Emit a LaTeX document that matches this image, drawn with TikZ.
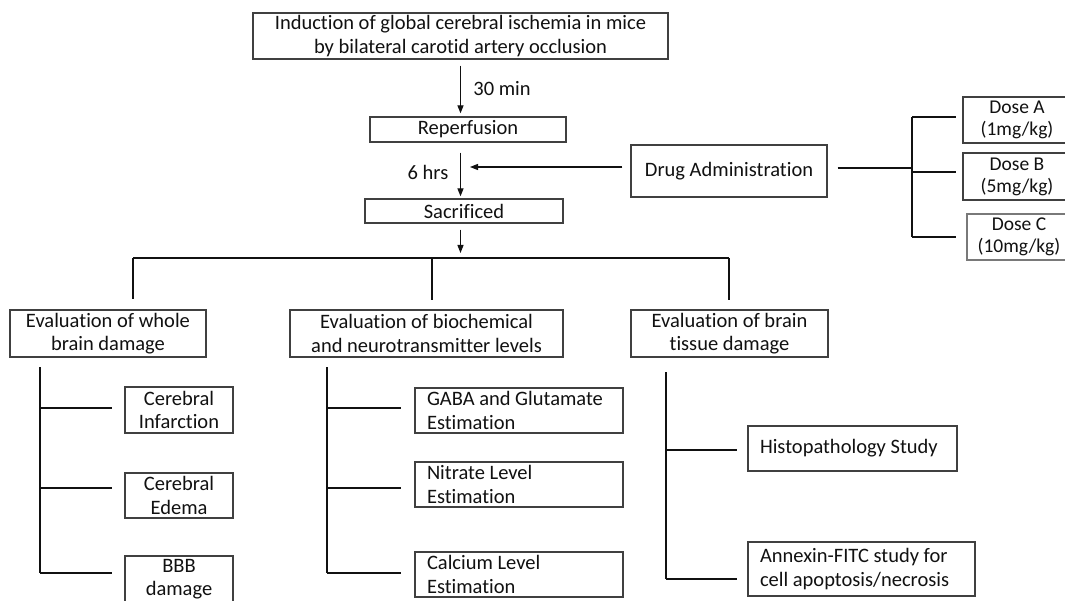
\documentclass[tikz,border=0pt]{standalone}
\usepackage{fontspec}
\setmainfont{Carlito}[Ligatures={NoCommon}]
\usetikzlibrary{arrows.meta}
\definecolor{boxgray}{HTML}{404040}
\definecolor{linec}{HTML}{111111}
\definecolor{textc}{HTML}{111111}
\newcommand\myfs{\fontsize{20.5}{23.5}\selectfont}
\newcommand\mysmall{\fontsize{19.5}{22}\selectfont}
\begin{document}
\begin{tikzpicture}[x=1pt,y=-1pt,
  box/.style={draw=boxgray, line width=1.3pt, inner sep=0pt, align=center, text=textc, font=\myfs},
  lbox/.style={box, align=flush left, inner xsep=12pt},
  conn/.style={draw=linec, line width=1.2pt},
  brk/.style={draw=linec, line width=1.9pt},
  arr/.style={conn, -{Triangle[length=8pt,width=6pt]}},
  lab/.style={text=textc, font=\myfs, inner sep=0pt}]
\useasboundingbox (0,0) rectangle (1065,601);
\fill[white] (0,0) rectangle (1065,601);
\begin{scope}
\clip (0,0) rectangle (1065,601);
% top flow
\node[box, minimum width=415pt, minimum height=46pt] (top) at (460.5,36) {Induction of global cerebral ischemia in mice\\by bilateral carotid artery occlusion};
\node[box, minimum width=196pt, minimum height=25pt] (rep) at (468,129.5) {Reperfusion};
\node[box, minimum width=198pt, minimum height=24pt] (sac) at (464,211) {Sacrificed};
\node[box, minimum width=196pt, minimum height=52pt] (drug) at (729,171) {Drug Administration};
% doses
\node[box, minimum width=108pt, minimum height=46pt, font=\mysmall] (dA) at (1017,120) {Dose A\\(1mg/kg)};
\node[box, minimum width=108pt, minimum height=47pt, font=\mysmall] (dB) at (1017,176.5) {Dose B\\(5mg/kg)};
\node[box, minimum width=104pt, minimum height=46pt, font=\mysmall, draw=boxgray!70] (dC) at (1019,237) {Dose C\\(10mg/kg)};
% evaluation boxes
\node[box, minimum width=196pt, minimum height=47pt] (ev1) at (108,333.5) {Evaluation of whole\\brain damage};
\node[box, minimum width=273pt, minimum height=47pt] (ev2) at (426.5,333.5) {Evaluation of biochemical\\and neurotransmitter levels};
\node[box, minimum width=197pt, minimum height=47pt] (ev3) at (729.5,333.5) {Evaluation of brain\\tissue damage};
% left leaves
\node[box, minimum width=108pt, minimum height=46pt] (ci) at (179,410) {Cerebral\\Infarction};
\node[box, minimum width=108pt, minimum height=45pt] (ce) at (179,495.5) {Cerebral\\Edema};
\node[box, minimum width=108pt, minimum height=46pt] (bbb) at (179,579) {BBB\\damage};
% middle leaves
\node[lbox, text width=184pt, minimum height=45pt] (gaba) at (519,410.5) {GABA and Glutamate\\Estimation};
\node[lbox, text width=184pt, minimum height=45pt] (nit) at (519,484.5) {Nitrate Level\\Estimation};
\node[lbox, text width=184pt, minimum height=45pt] (cal) at (519,574.5) {Calcium Level\\Estimation};
% right leaves
\node[lbox, text width=185pt, minimum height=45pt] (hist) at (852.5,448.5) {Histopathology Study};
\node[lbox, text width=203pt, minimum height=54pt] (ann) at (861.5,569) {Annexin-FITC study for\\cell apoptosis/necrosis};
% labels
\node[lab] (t30) at (502,89) {30 min};
\node[lab] (t6) at (428,172) {6 hrs};
% main arrows
\coordinate (ax) at (460.5,0);
\draw[arr] ([yshift=-6pt]top.south) -- ([yshift=3pt]ax |- rep.north);
\draw[arr] ([yshift=-10pt]ax |- rep.south) -- ([yshift=2pt]ax |- sac.north);
\coordinate (dArrEnd) at (470,167);
\draw[arr] ([xshift=-8pt,yshift=4pt]drug.west) -- (dArrEnd);
% bus to evaluation
\coordinate (busL) at (133,258);
\coordinate (busM) at (432,258);
\coordinate (busR) at (729,258);
\coordinate (busA) at (460.5,253);
\draw[arr] ([yshift=-6pt]ax |- sac.south) -- (busA);
\draw[conn] (busL) -- (busR);
\draw[brk] (busL) -- (busL |- 0,299);
\draw[brk] (busM) -- (busM |- 0,300);
\draw[conn] (busR) -- (busR |- 0,300);
% drug to doses
\coordinate (dv) at (912,0);
\draw[conn] ([xshift=10pt]drug.east |- 0,168) -- (dv |- 0,168);
\draw[brk] (dv |- 0,117) -- (dv |- 0,237);
\draw[brk] (dv |- 0,117) -- ([xshift=-6pt]dA.west |- 0,117);
\draw[brk] (dv |- 0,172) -- ([xshift=-6pt]dB.west |- 0,172);
\draw[brk] (dv |- 0,237) -- ([xshift=-10pt]dC.west |- 0,237);
% left bracket
\coordinate (lv) at (40,0);
\draw[brk] (lv |- 0,367) -- (lv |- 0,573);
\draw[brk] (lv |- 0,408) -- ([xshift=-12pt]ci.west |- 0,408);
\draw[brk] (lv |- 0,488) -- ([xshift=-12pt]ce.west |- 0,488);
\draw[brk] (lv |- 0,573) -- ([xshift=-12pt]bbb.west |- 0,573);
% middle bracket
\coordinate (mv) at (327,0);
\draw[brk] (mv |- 0,367) -- (mv |- 0,573);
\draw[brk] (mv |- 0,408) -- ([xshift=-13pt]gaba.west |- 0,408);
\draw[brk] (mv |- 0,488) -- ([xshift=-13pt]nit.west |- 0,488);
\draw[brk] (mv |- 0,573) -- ([xshift=-13pt]cal.west |- 0,573);
% right bracket
\coordinate (rv) at (666,0);
\draw[conn] (rv |- 0,372) -- (rv |- 0,579);
\draw[brk] (rv |- 0,450) -- ([xshift=-10pt]hist.west |- 0,450);
\draw[brk] (rv |- 0,579) -- ([xshift=-10pt]ann.west |- 0,579);
\end{scope}
\end{tikzpicture}
\end{document}
